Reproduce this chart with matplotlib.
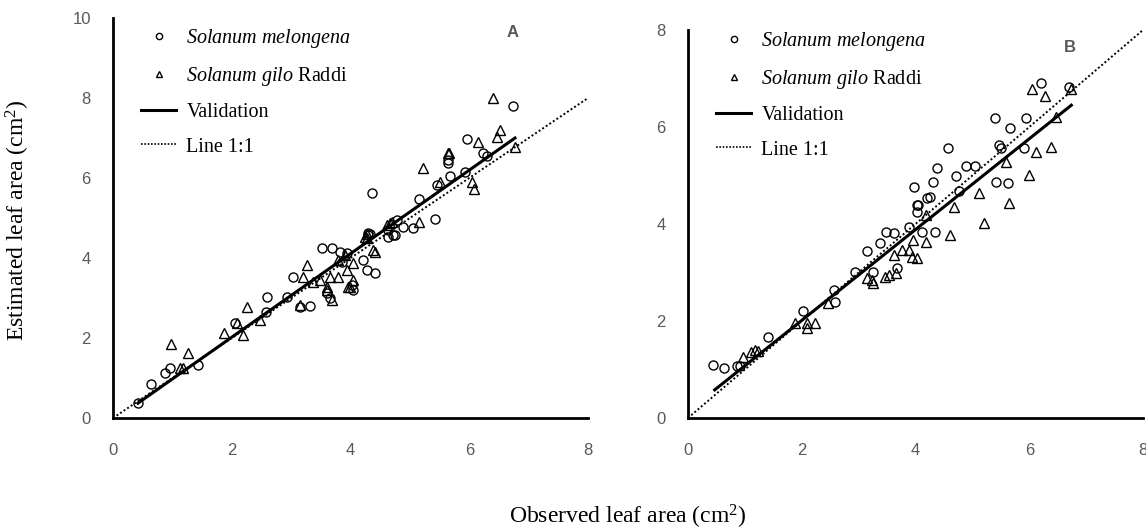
import numpy as np
import matplotlib
matplotlib.use('Agg')
import matplotlib.pyplot as plt
from matplotlib.lines import Line2D

plt.rcParams['mathtext.fontset'] = 'custom'
plt.rcParams['mathtext.rm'] = 'Liberation Serif'
plt.rcParams['mathtext.it'] = 'Liberation Serif:italic'

# Panel A (x = observed, y = estimated)
a_mel_x = [0.42, 0.64, 0.87, 0.96, 1.43, 2.05, 2.57, 2.59, 2.93, 3.03, 3.15, 3.32, 3.52, 3.69,
           3.82, 3.94, 3.86, 3.60, 3.65, 4.02, 4.04, 4.21, 4.28, 4.41, 4.29, 4.33, 4.63, 4.71,
           4.63, 4.36, 4.29, 4.75, 4.78, 4.88, 5.05, 5.15, 5.42, 5.45, 5.64, 5.67, 5.64, 5.93,
           5.96, 6.23, 6.30, 6.73]
a_mel_y = [0.38, 0.86, 1.12, 1.25, 1.33, 2.37, 2.65, 3.03, 3.03, 3.53, 2.78, 2.80, 4.25, 4.25,
           4.15, 4.12, 3.90, 3.12, 3.00, 3.33, 3.20, 3.95, 3.70, 3.63, 4.58, 4.60, 4.70, 4.58,
           4.53, 5.62, 4.63, 4.58, 4.95, 4.78, 4.75, 5.47, 4.97, 5.82, 6.38, 6.05, 6.45, 6.15,
           6.97, 6.62, 6.55, 7.80]
a_gil_x = [0.98, 1.13, 1.18, 1.26, 1.87, 2.09, 2.19, 2.26, 2.47, 3.15, 3.20, 3.27, 3.37, 3.48,
           3.60, 3.60, 3.65, 3.69, 3.79, 3.79, 3.90, 3.94, 3.96, 3.99, 4.04, 4.04, 4.24, 4.28,
           4.28, 4.38, 4.41, 4.61, 4.66, 4.70, 5.15, 5.22, 5.50, 5.64, 5.66, 6.04, 6.08, 6.15,
           6.40, 6.46, 6.52, 6.77]
a_gil_y = [1.85, 1.25, 1.25, 1.62, 2.13, 2.37, 2.08, 2.78, 2.45, 2.83, 3.53, 3.83, 3.40, 3.45,
           3.20, 3.28, 3.53, 2.95, 3.53, 3.95, 4.07, 3.70, 3.28, 3.28, 3.87, 3.45, 4.53, 4.50,
           4.60, 4.20, 4.15, 4.83, 4.87, 4.90, 4.90, 6.25, 5.90, 6.62, 6.62, 5.90, 5.72, 6.90,
           8.00, 7.03, 7.20, 6.78]
a_val_x = [0.42, 6.77]
a_val_y = [0.37, 7.00]

# Panel B
b_mel_x = [0.44, 0.63, 0.86, 0.91, 1.40, 2.02, 2.56, 2.58, 2.93, 3.14, 3.25, 3.37, 3.49, 3.63,
           3.68, 3.89, 3.98, 4.02, 4.02, 4.04, 4.12, 4.21, 4.25, 4.30, 4.35, 4.37, 4.58, 4.72,
           4.77, 4.89, 5.04, 5.40, 5.42, 5.47, 5.51, 5.63, 5.67, 5.91, 5.95, 6.21, 6.70]
b_mel_y = [1.09, 1.03, 1.07, 1.07, 1.67, 2.20, 2.64, 2.39, 3.01, 3.44, 3.01, 3.60, 3.83, 3.81,
           3.09, 3.94, 4.76, 4.39, 4.25, 4.39, 3.84, 4.54, 4.56, 4.86, 3.84, 5.15, 5.57, 4.99,
           4.68, 5.20, 5.20, 6.19, 4.87, 5.63, 5.57, 4.85, 5.98, 5.57, 6.19, 6.91, 6.83]
b_gil_x = [0.96, 1.10, 1.18, 1.23, 1.88, 2.09, 2.10, 2.23, 2.46, 3.14, 3.23, 3.25, 3.46, 3.54,
           3.63, 3.65, 3.77, 3.89, 3.93, 3.95, 4.02, 4.19, 4.19, 4.60, 4.68, 5.12, 5.21, 5.60,
           5.65, 6.00, 6.05, 6.12, 6.28, 6.39, 6.47, 6.74]
b_gil_y = [1.26, 1.36, 1.40, 1.38, 1.96, 1.96, 1.86, 1.96, 2.37, 2.89, 2.85, 2.78, 2.91, 2.95,
           3.36, 2.99, 3.46, 3.46, 3.32, 3.67, 3.30, 3.63, 4.19, 3.77, 4.35, 4.64, 4.02, 5.28,
           4.43, 5.01, 6.78, 5.48, 6.64, 5.59, 6.21, 6.78]
b_val_x = [0.47, 6.74]
b_val_y = [0.58, 6.45]

tick_font = ['Liberation Sans Narrow', 'Liberation Sans']
serif = 'Liberation Serif'

fig = plt.figure(figsize=(11.46, 5.31), dpi=100)
ax_a = fig.add_axes([0.0986, 0.2128, 0.4145, 0.7533])
ax_b = fig.add_axes([0.6003, 0.2128, 0.3971, 0.7307])

# axes, data..., y max, panel tag, tag position (axes coords), legend anchor (fig px)
panels = [
    (ax_a, a_mel_x, a_mel_y, a_gil_x, a_gil_y, a_val_x, a_val_y, 10, 'A', (0.842, 0.965), (141, 27)),
    (ax_b, b_mel_x, b_mel_y, b_gil_x, b_gil_y, b_val_x, b_val_y, 8, 'B', (0.84, 0.956), (716, 30)),
]

for ax, mx, my, gx, gy, vx, vy, ymax, tag, tagpos, legpos in panels:
    ax.plot([0, 8], [0, 8], linestyle=(0, (1, 1.2)), color='black', lw=1.4, zorder=2)
    ax.plot(vx, vy, color='black', lw=2.2, zorder=3)
    ax.plot(mx, my, 'o', ms=6.5, mfc='none', mec='black', mew=1.0, zorder=4)
    ax.plot(gx, gy, '^', ms=6.5, mfc='none', mec='black', mew=1.0, zorder=4)
    ax.set_xlim(0, 8)
    ax.set_ylim(0, ymax)
    ax.set_xticks(range(0, 9, 2))
    ax.set_yticks(range(0, ymax + 1, 2))
    for s in ['top', 'right']:
        ax.spines[s].set_visible(False)
    for s in ['left', 'bottom']:
        ax.spines[s].set_linewidth(2)
    ax.tick_params(length=0, labelcolor='#595959', labelsize=12)
    ax.tick_params(axis='x', pad=18)
    ax.tick_params(axis='y', pad=16)
    for lab in ax.get_xticklabels() + ax.get_yticklabels():
        lab.set_family(tick_font)
    ax.text(tagpos[0], tagpos[1], tag, transform=ax.transAxes, fontsize=12,
            fontweight='bold', color='#595959', family=tick_font, ha='center', va='center')

    handles = [
        Line2D([], [], marker='o', ls='none', ms=4.5, mfc='none', mec='black', mew=1),
        Line2D([], [], marker='^', ls='none', ms=4.5, mfc='none', mec='black', mew=1),
        Line2D([], [], color='black', lw=2.2),
        Line2D([], [], color='black', lw=1.2, ls=(0, (1, 1))),
    ]
    labels = [r'$\it{Solanum\ melongena}$', r'$\it{Solanum\ gilo}$ Raddi',
              'Validation', 'Line 1:1']
    ax.legend(handles, labels, loc='upper left',
              bbox_to_anchor=(legpos[0] / 1146, 1 - legpos[1] / 531),
              bbox_transform=fig.transFigure,
              frameon=False, prop={'family': serif, 'size': 14.5},
              handlelength=1.75, handletextpad=0.5, labelspacing=0.75,
              borderaxespad=0.0, borderpad=0.0)

fig.text(0.016, 0.585, 'Estimated leaf area (cm$^2$)', rotation=90, ha='center',
         va='center', family=serif, fontsize=17)
fig.text(0.548, 0.026, 'Observed leaf area (cm$^2$)', ha='center', va='center',
         family=serif, fontsize=17)

fig.savefig('out.png', dpi=100)
